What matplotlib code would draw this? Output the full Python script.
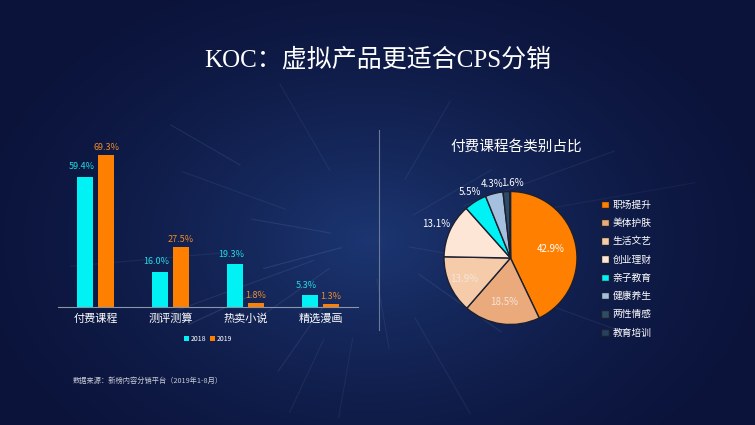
import numpy as np
import matplotlib
matplotlib.use('Agg')
import matplotlib.pyplot as plt

plt.rcParams['font.family'] = ['Noto Sans CJK SC', 'DejaVu Sans']

# Bar chart data
categories = ['付费课程', '测评测算', '热卖小说', '精选漫画']
vals_2018 = [59.4, 16.0, 19.3, 5.3]
vals_2019 = [69.3, 27.5, 1.8, 1.3]
years = ['2018', '2019']

# Pie chart data
pie_labels = ['职场提升', '美体护肤', '生活文艺', '创业理财',
              '亲子教育', '健康养生', '两性情感', '教育培训']
pie_vals = [42.9, 18.5, 13.9, 13.1, 5.5, 4.3, 1.6, 0.2]
pie_colors = ['#FF7F00', '#EBAA7C', '#F6CBAA', '#FDE6D6',
              '#00F2F5', '#A5C0DE', '#2E4B68', '#27415E']

W, H = 755, 425
fig = plt.figure(figsize=(W / 100, H / 100), dpi=100)

# Background: radial gradient + starburst streaks
bg = fig.add_axes([0, 0, 1, 1])
yy, xx = np.mgrid[0:H, 0:W]
d = np.sqrt(((xx - 370) / 430) ** 2 + ((yy - 240) / 300) ** 2)
d = np.clip(d, 0, 1)
c_in = np.array([0x1C, 0x36, 0x72]) / 255
c_out = np.array([0x0B, 0x13, 0x3A]) / 255
k = (1 - d[..., None]) ** 1.5
img = c_in[None, None, :] * k + c_out[None, None, :] * (1 - k)
bg.imshow(img, extent=[0, W, H, 0], aspect='auto')
cx, cy = 370, 240
streaks = [(200, 60, 220, 0.10), (205, 120, 200, 0.14), (160, 90, 200, 0.08),
           (150, 150, 230, 0.10), (235, 80, 160, 0.10), (245, 110, 190, 0.08),
           (20, 100, 260, 0.08), (340, 140, 280, 0.08), (300, 90, 200, 0.08),
           (60, 70, 160, 0.08), (120, 80, 180, 0.07), (185, 150, 300, 0.08),
           (325, 60, 160, 0.10), (10, 180, 330, 0.06), (260, 100, 180, 0.07),
           (170, 40, 120, 0.10), (195, 30, 110, 0.12), (215, 50, 130, 0.10),
           (350, 40, 120, 0.08), (30, 50, 140, 0.08), (280, 40, 110, 0.08)]
for ang, r0, r1, a in streaks:
    t = np.deg2rad(ang)
    bg.plot([cx + r0 * np.cos(t), cx + r1 * np.cos(t)],
            [cy - r0 * np.sin(t), cy - r1 * np.sin(t)],
            color='#A8CCFF', alpha=a, lw=0.8)
bg.set_xlim(0, W)
bg.set_ylim(H, 0)
bg.axis('off')

# Title
fig.text(378 / W, 1 - 60 / H, 'KOC：虚拟产品更适合CPS分销', color='white',
         fontsize=18, ha='center', va='center',
         family=['Liberation Serif', 'Noto Sans CJK SC'])

# Divider
bg.plot([379, 379], [130, 330], color='#6A7A95', lw=0.8)

# Bar chart
ax = fig.add_axes([58 / W, (H - 306.7) / H, 300 / W, 175 / H])
ax.patch.set_alpha(0)
x = np.arange(len(categories))
bw = 0.226
off = 0.14
ax.bar(x - off, vals_2018, bw, color='#00F2F5', label=years[0])
ax.bar(x + off, vals_2019, bw, color='#FF7F00', label=years[1])
for xi, v in zip(x, vals_2018):
    ax.text(xi - off - 0.05, v + 2.5, f'{v:.1f}%', color='#20DDE6',
            fontsize=6.5, ha='center', va='bottom')
for xi, v in zip(x, vals_2019):
    ax.text(xi + off, v + 1.2, f'{v:.1f}%', color='#F08A2A',
            fontsize=6.5, ha='center', va='bottom')
ax.set_xlim(-0.5, 3.5)
ax.set_ylim(0, 80)
ax.set_yticks([])
ax.set_xticks(x)
ax.set_xticklabels(categories, color='white', fontsize=8)
ax.tick_params(axis='x', length=0, pad=5)
for s in ['top', 'right', 'left']:
    ax.spines[s].set_visible(False)
ax.spines['bottom'].set_color('#8896AA')
ax.spines['bottom'].set_linewidth(0.8)
ax.legend(loc='center', bbox_to_anchor=(208 / W, 1 - 339 / H),
          bbox_transform=fig.transFigure, ncol=2, frameon=False,
          fontsize=5, labelcolor='white', handlelength=0.7, handleheight=0.7,
          handletextpad=0.3, columnspacing=0.5)

# Source note
fig.text(73 / W, 1 - 381 / H, '数据来源：新榜内容分销平台（2019年1-8月）',
         color='#C8CCD8', fontsize=5.2, ha='left', va='center')

# Pie chart
r = 66.5
pax = fig.add_axes([(510.5 - r) / W, (H - 258 - r) / H, 2 * r / W, 2 * r / H])
wedges, _ = pax.pie(pie_vals, colors=pie_colors, startangle=90, counterclock=False,
                    wedgeprops=dict(edgecolor='#1A2030', linewidth=1.0))
pax.set_xlim(-1, 1)
pax.set_ylim(-1, 1)
pax.axis('off')

lab_dist = [0.62, 0.67, 0.77, 1.23, 1.17, 1.15, 1.13, None]
lab_dx = [0, 0, 0, 0, 0, 0, 0.1, 0]
lab_col = ['white', '#F3E6DA', '#F3E6DA', 'white', 'white', 'white', 'white', 'white']
for w, v, dd, dx, c in zip(wedges, pie_vals, lab_dist, lab_dx, lab_col):
    if dd is None:
        continue
    mid = np.deg2rad((w.theta1 + w.theta2) / 2)
    pax.text(dd * np.cos(mid) + dx, dd * np.sin(mid), f'{v:.1f}%', color=c,
             fontsize=7, ha='center', va='center', clip_on=False)

fig.text(516 / W, 1 - 147 / H, '付费课程各类别占比', color='white',
         fontsize=10.5, ha='center', va='center')

pax.legend(wedges, pie_labels, loc='upper left',
           bbox_to_anchor=(592 / W, 1 - 191 / H), bbox_transform=fig.transFigure,
           frameon=False, fontsize=7, labelcolor='white', handlelength=0.8,
           handleheight=0.8, handletextpad=0.4, labelspacing=0.85)

fig.savefig('out.png', dpi=100)
